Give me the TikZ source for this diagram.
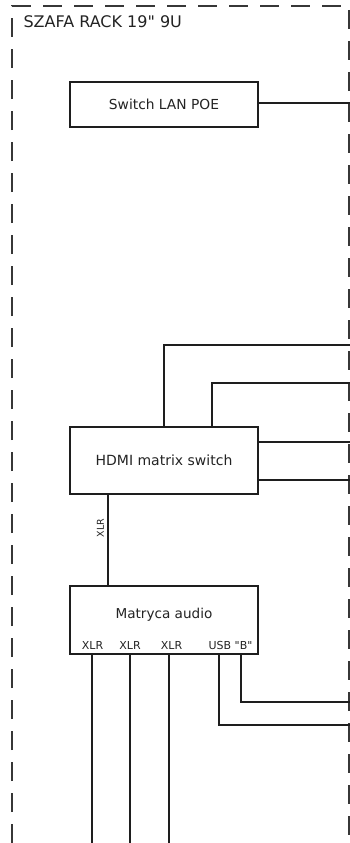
\documentclass[tikz,border=0pt]{standalone}
\usepackage{fontspec}
\setmainfont{DejaVu Sans}
\usetikzlibrary{calc}
\definecolor{wire}{RGB}{30,30,30}
\definecolor{frame}{RGB}{55,55,55}
\definecolor{label}{RGB}{35,35,35}

\begin{document}
\begin{tikzpicture}[x=1pt,y=-1pt,line join=miter,
    box/.style={draw=wire,line width=1.3pt,inner sep=0pt,minimum width=188pt,text=label},
    cable/.style={draw=wire,line width=1.1pt},
    port/.style={inner sep=0pt,text=label,font=\fontsize{11}{12}\selectfont}]
  \useasboundingbox (0,0) rectangle (350,843);
  % rack outline
  \draw[frame,line width=1.2pt,dash pattern=on 19pt off 12pt]
    (12,843) -- (12,6) -- (349,6) -- (349,843);
  \node[anchor=west,text=label,font=\fontsize{16}{18}\selectfont] (rack) at (20,22) {SZAFA RACK 19\textquotedbl{} 9U};
  % devices
  \node[box,minimum height=45pt,font=\fontsize{13.8}{16}\selectfont] (poe) at (164,104.5) {Switch LAN POE};
  \node[box,minimum height=67pt,font=\fontsize{14}{16}\selectfont] (hdmi) at (164,460.5) {HDMI matrix switch};
  \node[box,minimum height=68pt] (audio) at (164,620) {};
  \node[text=label,font=\fontsize{13.6}{16}\selectfont] (audiolbl) at (164,615) {Matryca audio};
  \node[port] (p1) at (92.5,645) {XLR};
  \node[port] (p2) at (130,645) {XLR};
  \node[port] (p3) at (171.5,645) {XLR};
  \node[port] (p4) at (230.5,645) {USB \textquotedbl B\textquotedbl};
  % cable ends
  \coordinate (e1) at (350,103);
  \coordinate (e2) at (350,345);
  \coordinate (e3) at (350,383);
  \coordinate (e4) at (350,442);
  \coordinate (e5) at (350,480);
  \coordinate (e6) at (350,702);
  \coordinate (e7) at (350,725);
  \coordinate (bot) at (0,843);
  % cables
  \draw[cable] (poe.east |- e1) -- (e1);
  \draw[cable] (hdmi.north) |- (e2);
  \draw[cable] ($(hdmi.north)+(48,0)$) |- (e3);
  \draw[cable] (hdmi.east |- e4) -- (e4);
  \draw[cable] (hdmi.east |- e5) -- (e5);
  \draw[cable] ($(hdmi.south)+(-56,0)$) -- node[pos=.37,rotate=90,anchor=south,inner sep=3.5pt,
    text=label,font=\fontsize{9.5}{11}\selectfont] (xlrlbl) {XLR} ($(audio.north)+(-56,0)$);
  \foreach \dx [count=\i] in {-72,-34,5}
    {\coordinate (x\i) at ($(audio.south)+(\dx,0)$);
     \draw[cable] (x\i) -- (x\i |- bot);}
  \draw[cable] ($(audio.south)+(55,0)$) |- (e7);
  \draw[cable] ($(audio.south)+(77,0)$) |- (e6);
\end{tikzpicture}
\end{document}
